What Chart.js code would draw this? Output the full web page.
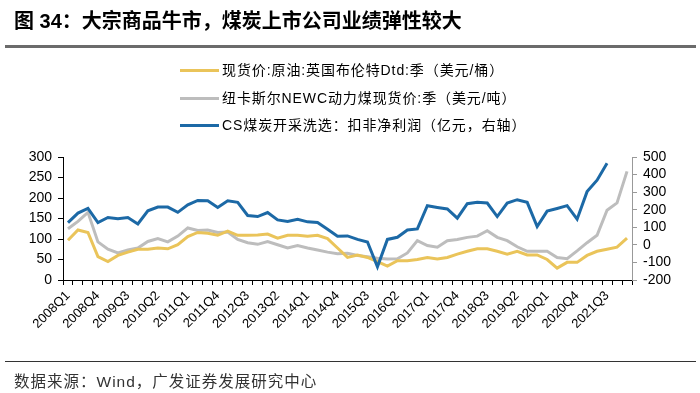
<!DOCTYPE html>
<html>
<head>
<meta charset="utf-8">
<script src="https://cdn.jsdelivr.net/npm/chart.js@4"></script>
<style>
  body { margin: 0; background: #fff; font-family: "Liberation Sans", "Noto Sans CJK SC", sans-serif; }
  #wrap { position: relative; width: 700px; height: 393px; overflow: hidden; }
  #title { position: absolute; left: 14px; top: 5px; font-size: 20px; font-weight: bold; color: #000; white-space: nowrap; }
  #topline { position: absolute; left: 5px; top: 45px; width: 691px; height: 3px; background: #6b6b6b; }
  #bottomline { position: absolute; left: 5px; top: 361px; width: 691px; height: 1px; background: #333; }
  #source { position: absolute; left: 14px; top: 369px; font-size: 15.5px; letter-spacing: 1px; color: #333; white-space: nowrap; }
  .leg { position: absolute; left: 180px; font-size: 14px; letter-spacing: 0.9px; color: #000; white-space: nowrap; height: 20px; line-height: 20px; }
  .leg span.ln { position: absolute; left: 0; top: 9px; width: 39px; height: 3px; }
  .leg span.tx { position: absolute; left: 42px; top: 0; }
  canvas { position: absolute; left: 0; top: 0; }
</style>
</head>
<body>
<div id="wrap">
  <canvas id="myChart" width="700" height="393"></canvas>
  <div id="title">图 34：大宗商品牛市，煤炭上市公司业绩弹性较大</div>
  <div id="topline"></div>
  <div id="legend"></div>
  <div id="bottomline"></div>
  <div id="source">数据来源：Wind，广发证券发展研究中心</div>
</div>
<script>
let quarters = [
  "2008Q1","2008Q2","2008Q3","2008Q4","2009Q1","2009Q2","2009Q3","2009Q4",
  "2010Q1","2010Q2","2010Q3","2010Q4","2011Q1","2011Q2","2011Q3","2011Q4",
  "2012Q1","2012Q2","2012Q3","2012Q4","2013Q1","2013Q2","2013Q3","2013Q4",
  "2014Q1","2014Q2","2014Q3","2014Q4","2015Q1","2015Q2","2015Q3","2015Q4",
  "2016Q1","2016Q2","2016Q3","2016Q4","2017Q1","2017Q2","2017Q3","2017Q4",
  "2018Q1","2018Q2","2018Q3","2018Q4","2019Q1","2019Q2","2019Q3","2019Q4",
  "2020Q1","2020Q2","2020Q3","2020Q4","2021Q1","2021Q2","2021Q3","2021Q4",
  "2022Q1"
];

// 布伦特原油 (美元/桶)
let brent = [
  97, 122, 116, 57, 45, 60, 68, 75, 75, 78, 76, 86, 106, 116,
  114, 109, 119, 109, 109, 110, 112, 102, 109, 109, 107, 109, 101, 78,
  55, 61, 55, 45, 34, 47, 47, 50, 55, 51, 55, 63, 70, 76,
  76, 70, 63, 70, 61, 61, 50, 29, 43, 43, 60, 70, 75, 80, 102
];

// 纽卡斯尔动力煤 (美元/吨)
let newc = [
  125, 143, 165, 93, 75, 66, 73, 78, 94, 101, 93, 107, 127, 121,
  122, 116, 117, 99, 91, 87, 94, 86, 78, 84, 78, 73, 68, 64,
  65, 60, 57, 53, 51, 52, 66, 96, 84, 80, 96, 99, 104, 107,
  120, 104, 96, 81, 70, 70, 70, 55, 52, 71, 91, 109, 170, 188, 265
];

// CS煤炭开采洗选 扣非净利润 (亿元, 右轴)
let profit = [
  127, 181, 207, 127, 156, 148, 156, 119, 194, 215, 215, 185, 228, 253,
  251, 213, 251, 242, 167, 161, 184, 142, 133, 146, 131, 127, 89, 49,
  51, 31, 16, -125, 31, 43, 85, 91, 223, 213, 204, 152, 234, 242,
  238, 161, 238, 257, 242, 104, 192, 207, 223, 146, 303, 368, 464
];

let names = [
  "现货价:原油:英国布伦特Dtd:季（美元/桶）",
  "纽卡斯尔NEWC动力煤现货价:季（美元/吨）",
  "CS煤炭开采洗选：扣非净利润（亿元，右轴）"
];
let colors = ["#EAC45A", "#BDBDBD", "#1C69A6"];

// html legend, stacked
let legendTops = [60, 88, 115];
let legend = document.getElementById("legend");
for (let i = 0; i < names.length; i++) {
  let row = document.createElement("div");
  row.className = "leg";
  row.style.top = legendTops[i] + "px";
  row.innerHTML = '<span class="ln" style="background:' + colors[i] + '"></span><span class="tx"></span>';
  row.querySelector(".tx").textContent = names[i];
  legend.appendChild(row);
}

let tickFont = { family: "'Liberation Sans', Arial, sans-serif", size: 14 };

let ctx = document.getElementById("myChart").getContext("2d");
window.myChart = new Chart(ctx, {
  type: "line",
  data: {
    labels: quarters,
    datasets: [
      { label: names[0], data: brent, borderColor: colors[0], yAxisID: "y", order: 2 },
      { label: names[1], data: newc, borderColor: colors[1], yAxisID: "y", order: 3 },
      { label: names[2], data: profit, borderColor: colors[2], yAxisID: "y1", order: 1 }
    ]
  },
  options: {
    responsive: false,
    animation: false,
    layout: { padding: { left: 0, right: 0, top: 157, bottom: 53 } },
    elements: {
      line: { borderWidth: 3, tension: 0, borderCapStyle: "butt", borderJoinStyle: "miter" },
      point: { radius: 0 }
    },
    plugins: { legend: { display: false }, tooltip: { enabled: false } },
    scales: {
      x: {
        offset: true,
        grid: { offset: true, drawOnChartArea: false, drawTicks: true, tickLength: 5, color: "#000" },
        border: { display: true, color: "#000", width: 1 },
        ticks: {
          autoSkip: false,
          minRotation: 45,
          maxRotation: 45,
          padding: 3,
          color: "#000",
          font: { family: "'Liberation Sans', Arial, sans-serif", size: 13 },
          callback: function (val, idx) { return idx % 3 === 0 ? quarters[idx] : ""; }
        },
        afterFit: function (axis) { axis.height = 60; }
      },
      y: {
        position: "left",
        min: 0, max: 300,
        grid: { drawOnChartArea: false, tickLength: 5, color: "#000" },
        border: { display: true, color: "#000", width: 1 },
        ticks: { stepSize: 50, autoSkip: false, color: "#000", padding: 6, font: tickFont },
        afterFit: function (axis) { axis.width = 63; }
      },
      y1: {
        position: "right",
        min: -200, max: 500,
        grid: { drawOnChartArea: false, tickLength: 5, color: "#999" },
        border: { display: true, color: "#999", width: 1 },
        ticks: { stepSize: 100, autoSkip: false, color: "#000", padding: 6, font: tickFont },
        afterFit: function (axis) { axis.width = 68; }
      }
    }
  }
});
</script>
</body>
</html>
